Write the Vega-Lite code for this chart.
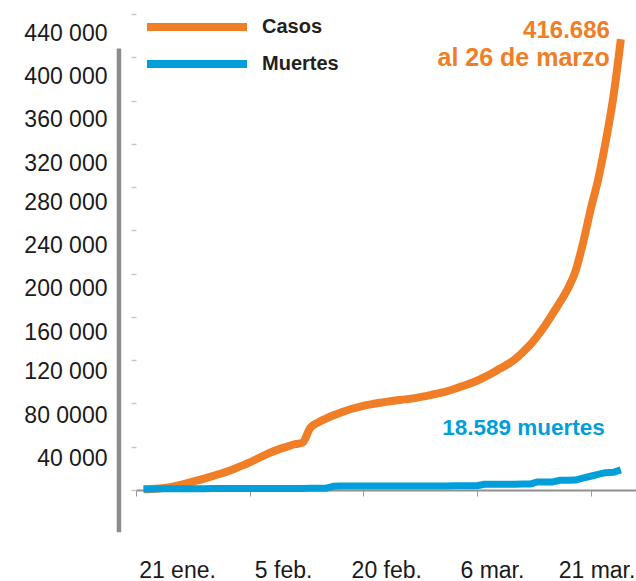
{
  "$schema": "https://vega.github.io/schema/vega-lite/v6.json",
  "width": 500,
  "height": 476,
  "autosize": "none",
  "padding": {"left": 136, "top": 14, "right": 0, "bottom": 91},
  "background": "white",
  "config": {
    "view": {"stroke": null},
    "font": "Liberation Sans",
    "axisX": {
      "title": null, "grid": false, "zindex": 1,
      "domain": false, "tickColor": "#999999", "tickSize": 6, "tickWidth": 1,
      "labelFontSize": 23, "labelColor": "#1a1a1a", "labelBaseline": "alphabetic", "labelAlign": "center",
      "labelPadding": 81, "labelFlush": false, "labelOverlap": false, "labelBound": false,
      "labelExpr": "utcdate(datum.value) + ' ' + ['ene.', 'feb.', 'mar.'][utcmonth(datum.value)]"
    },
    "axisY": {
      "title": null, "grid": false, "domain": false,
      "tickColor": "#c8c8c8", "tickSize": 5, "tickWidth": 1.5,
      "labelFontSize": 23, "labelColor": "#1a1a1a", "labelPadding": 24, "labelBaseline": "middle",
      "labelOverlap": false, "labelFlush": false, "labelBound": false,
      "labelExpr": "datum.value == 0 ? '' : (datum.value == 80000 ? '80 0000' : format(datum.value / 1000, 'd') + ' 000')"
    }
  },
  "resolve": {"axis": {"x": "independent", "y": "independent"}},
  "data": {"values": [
    {"fecha": "2020-01-22", "serie": "Casos", "valor": 600},
    {"fecha": "2020-01-23", "serie": "Casos", "valor": 900},
    {"fecha": "2020-01-24", "serie": "Casos", "valor": 1400},
    {"fecha": "2020-01-25", "serie": "Casos", "valor": 2200},
    {"fecha": "2020-01-26", "serie": "Casos", "valor": 3400},
    {"fecha": "2020-01-27", "serie": "Casos", "valor": 5000},
    {"fecha": "2020-01-28", "serie": "Casos", "valor": 6800},
    {"fecha": "2020-01-29", "serie": "Casos", "valor": 8600},
    {"fecha": "2020-01-30", "serie": "Casos", "valor": 10500},
    {"fecha": "2020-01-31", "serie": "Casos", "valor": 12600},
    {"fecha": "2020-02-01", "serie": "Casos", "valor": 14800},
    {"fecha": "2020-02-02", "serie": "Casos", "valor": 17000},
    {"fecha": "2020-02-03", "serie": "Casos", "valor": 19700},
    {"fecha": "2020-02-04", "serie": "Casos", "valor": 22500},
    {"fecha": "2020-02-05", "serie": "Casos", "valor": 25500},
    {"fecha": "2020-02-06", "serie": "Casos", "valor": 28900},
    {"fecha": "2020-02-07", "serie": "Casos", "valor": 32300},
    {"fecha": "2020-02-08", "serie": "Casos", "valor": 35300},
    {"fecha": "2020-02-09", "serie": "Casos", "valor": 38000},
    {"fecha": "2020-02-10", "serie": "Casos", "valor": 40200},
    {"fecha": "2020-02-11", "serie": "Casos", "valor": 42300},
    {"fecha": "2020-02-12", "serie": "Casos", "valor": 43800},
    {"fecha": "2020-02-13", "serie": "Casos", "valor": 57500},
    {"fecha": "2020-02-14", "serie": "Casos", "valor": 62300},
    {"fecha": "2020-02-15", "serie": "Casos", "valor": 65800},
    {"fecha": "2020-02-16", "serie": "Casos", "valor": 68800},
    {"fecha": "2020-02-17", "serie": "Casos", "valor": 71500},
    {"fecha": "2020-02-18", "serie": "Casos", "valor": 74000},
    {"fecha": "2020-02-19", "serie": "Casos", "valor": 76000},
    {"fecha": "2020-02-20", "serie": "Casos", "valor": 77800},
    {"fecha": "2020-02-21", "serie": "Casos", "valor": 79200},
    {"fecha": "2020-02-22", "serie": "Casos", "valor": 80400},
    {"fecha": "2020-02-23", "serie": "Casos", "valor": 81500},
    {"fecha": "2020-02-24", "serie": "Casos", "valor": 82500},
    {"fecha": "2020-02-25", "serie": "Casos", "valor": 83400},
    {"fecha": "2020-02-26", "serie": "Casos", "valor": 84200},
    {"fecha": "2020-02-27", "serie": "Casos", "valor": 85200},
    {"fecha": "2020-02-28", "serie": "Casos", "valor": 86500},
    {"fecha": "2020-02-29", "serie": "Casos", "valor": 88000},
    {"fecha": "2020-03-01", "serie": "Casos", "valor": 89500},
    {"fecha": "2020-03-02", "serie": "Casos", "valor": 91200},
    {"fecha": "2020-03-03", "serie": "Casos", "valor": 93400},
    {"fecha": "2020-03-04", "serie": "Casos", "valor": 95800},
    {"fecha": "2020-03-05", "serie": "Casos", "valor": 98200},
    {"fecha": "2020-03-06", "serie": "Casos", "valor": 101000},
    {"fecha": "2020-03-07", "serie": "Casos", "valor": 104300},
    {"fecha": "2020-03-08", "serie": "Casos", "valor": 108000},
    {"fecha": "2020-03-09", "serie": "Casos", "valor": 112000},
    {"fecha": "2020-03-10", "serie": "Casos", "valor": 116000},
    {"fecha": "2020-03-11", "serie": "Casos", "valor": 120800},
    {"fecha": "2020-03-12", "serie": "Casos", "valor": 127000},
    {"fecha": "2020-03-13", "serie": "Casos", "valor": 134000},
    {"fecha": "2020-03-14", "serie": "Casos", "valor": 142500},
    {"fecha": "2020-03-15", "serie": "Casos", "valor": 152000},
    {"fecha": "2020-03-16", "serie": "Casos", "valor": 163000},
    {"fecha": "2020-03-17", "serie": "Casos", "valor": 174000},
    {"fecha": "2020-03-18", "serie": "Casos", "valor": 186000},
    {"fecha": "2020-03-19", "serie": "Casos", "valor": 202000},
    {"fecha": "2020-03-20", "serie": "Casos", "valor": 228000},
    {"fecha": "2020-03-21", "serie": "Casos", "valor": 259000},
    {"fecha": "2020-03-22", "serie": "Casos", "valor": 287000},
    {"fecha": "2020-03-23", "serie": "Casos", "valor": 322000},
    {"fecha": "2020-03-24", "serie": "Casos", "valor": 363000},
    {"fecha": "2020-03-25", "serie": "Casos", "valor": 416686},
    {"fecha": "2020-01-22", "serie": "Muertes", "valor": 1000},
    {"fecha": "2020-01-23", "serie": "Muertes", "valor": 1000},
    {"fecha": "2020-01-24", "serie": "Muertes", "valor": 1050},
    {"fecha": "2020-01-25", "serie": "Muertes", "valor": 1100},
    {"fecha": "2020-01-26", "serie": "Muertes", "valor": 1100},
    {"fecha": "2020-01-27", "serie": "Muertes", "valor": 1150},
    {"fecha": "2020-01-28", "serie": "Muertes", "valor": 1200},
    {"fecha": "2020-01-29", "serie": "Muertes", "valor": 1200},
    {"fecha": "2020-01-30", "serie": "Muertes", "valor": 1250},
    {"fecha": "2020-01-31", "serie": "Muertes", "valor": 1300},
    {"fecha": "2020-02-01", "serie": "Muertes", "valor": 1300},
    {"fecha": "2020-02-02", "serie": "Muertes", "valor": 1350},
    {"fecha": "2020-02-03", "serie": "Muertes", "valor": 1350},
    {"fecha": "2020-02-04", "serie": "Muertes", "valor": 1400},
    {"fecha": "2020-02-05", "serie": "Muertes", "valor": 1400},
    {"fecha": "2020-02-06", "serie": "Muertes", "valor": 1400},
    {"fecha": "2020-02-07", "serie": "Muertes", "valor": 1450},
    {"fecha": "2020-02-08", "serie": "Muertes", "valor": 1450},
    {"fecha": "2020-02-09", "serie": "Muertes", "valor": 1450},
    {"fecha": "2020-02-10", "serie": "Muertes", "valor": 1500},
    {"fecha": "2020-02-11", "serie": "Muertes", "valor": 1500},
    {"fecha": "2020-02-12", "serie": "Muertes", "valor": 1500},
    {"fecha": "2020-02-13", "serie": "Muertes", "valor": 1550},
    {"fecha": "2020-02-14", "serie": "Muertes", "valor": 1550},
    {"fecha": "2020-02-15", "serie": "Muertes", "valor": 1600},
    {"fecha": "2020-02-16", "serie": "Muertes", "valor": 3400},
    {"fecha": "2020-02-17", "serie": "Muertes", "valor": 3700},
    {"fecha": "2020-02-18", "serie": "Muertes", "valor": 3700},
    {"fecha": "2020-02-19", "serie": "Muertes", "valor": 3700},
    {"fecha": "2020-02-20", "serie": "Muertes", "valor": 3700},
    {"fecha": "2020-02-21", "serie": "Muertes", "valor": 3700},
    {"fecha": "2020-02-22", "serie": "Muertes", "valor": 3700},
    {"fecha": "2020-02-23", "serie": "Muertes", "valor": 3700},
    {"fecha": "2020-02-24", "serie": "Muertes", "valor": 3750},
    {"fecha": "2020-02-25", "serie": "Muertes", "valor": 3750},
    {"fecha": "2020-02-26", "serie": "Muertes", "valor": 3750},
    {"fecha": "2020-02-27", "serie": "Muertes", "valor": 3750},
    {"fecha": "2020-02-28", "serie": "Muertes", "valor": 3800},
    {"fecha": "2020-02-29", "serie": "Muertes", "valor": 3800},
    {"fecha": "2020-03-01", "serie": "Muertes", "valor": 3800},
    {"fecha": "2020-03-02", "serie": "Muertes", "valor": 3800},
    {"fecha": "2020-03-03", "serie": "Muertes", "valor": 3850},
    {"fecha": "2020-03-04", "serie": "Muertes", "valor": 3850},
    {"fecha": "2020-03-05", "serie": "Muertes", "valor": 3900},
    {"fecha": "2020-03-06", "serie": "Muertes", "valor": 3900},
    {"fecha": "2020-03-07", "serie": "Muertes", "valor": 5300},
    {"fecha": "2020-03-08", "serie": "Muertes", "valor": 5300},
    {"fecha": "2020-03-09", "serie": "Muertes", "valor": 5350},
    {"fecha": "2020-03-10", "serie": "Muertes", "valor": 5400},
    {"fecha": "2020-03-11", "serie": "Muertes", "valor": 5400},
    {"fecha": "2020-03-12", "serie": "Muertes", "valor": 5450},
    {"fecha": "2020-03-13", "serie": "Muertes", "valor": 5500},
    {"fecha": "2020-03-14", "serie": "Muertes", "valor": 7400},
    {"fecha": "2020-03-15", "serie": "Muertes", "valor": 7400},
    {"fecha": "2020-03-16", "serie": "Muertes", "valor": 7500},
    {"fecha": "2020-03-17", "serie": "Muertes", "valor": 9000},
    {"fecha": "2020-03-18", "serie": "Muertes", "valor": 9000},
    {"fecha": "2020-03-19", "serie": "Muertes", "valor": 9200},
    {"fecha": "2020-03-20", "serie": "Muertes", "valor": 10900},
    {"fecha": "2020-03-21", "serie": "Muertes", "valor": 12700},
    {"fecha": "2020-03-22", "serie": "Muertes", "valor": 14400},
    {"fecha": "2020-03-23", "serie": "Muertes", "valor": 16000},
    {"fecha": "2020-03-24", "serie": "Muertes", "valor": 16300},
    {"fecha": "2020-03-25", "serie": "Muertes", "valor": 18589}
  ]},
  "layer": [
    {
      "transform": [{"filter": "datum.serie === 'Casos'"}],
      "mark": {"type": "line", "strokeWidth": 8, "interpolate": "monotone", "strokeCap": "butt", "strokeJoin": "round"},
      "encoding": {
        "x": {
          "field": "fecha", "type": "temporal",
          "scale": {"type": "utc", "domain": [{"year": 2020, "month": 1, "date": 21, "utc": true}, {"year": 2020, "month": 3, "date": 27, "utc": true}]},
          "axis": {
            "orient": "bottom",
            "values": [{"year": 2020, "month": 1, "date": 21, "utc": true}],
            "labelOffset": 41,
            "domain": true, "domainColor": "#333333", "domainOpacity": 0.55, "domainWidth": 2
          }
        },
        "y": {
          "field": "valor", "type": "quantitative",
          "scale": {"domain": [0, 440000], "nice": false, "zero": false},
          "axis": {"orient": "left", "values": [0, 40000, 80000, 120000], "labelOffset": 11.6}
        },
        "color": {
          "field": "serie", "type": "nominal",
          "scale": {"domain": ["Casos", "Muertes"], "range": ["#F07E26", "#009FDA"]},
          "legend": {
            "orient": "none", "legendX": 51, "legendY": 3, "title": null, "padding": 0,
            "symbolType": "M-10,0H10", "symbolSize": 100, "symbolStrokeWidth": 8, "symbolOpacity": 1,
            "labelFontSize": 20, "labelFontWeight": "bold", "labelColor": "#231F20", "labelOffset": 55,
            "rowPadding": 5
          }
        }
      }
    },
    {
      "data": {"values": [{}]},
      "mark": {"type": "rule", "strokeWidth": 4.5, "color": "#8c8c8c", "strokeCap": "butt"},
      "encoding": {
        "x": {
          "datum": {"year": 2020, "month": 1, "date": 18, "hours": 18, "utc": true}, "type": "temporal",
          "axis": {"orient": "bottom", "values": [{"year": 2020, "month": 2, "date": 5, "utc": true}], "labelOffset": 33.5}
        },
        "y": {
          "datum": -39000, "type": "quantitative",
          "axis": {"orient": "left", "values": [160000, 200000, 240000, 280000], "labelOffset": 15.2}
        },
        "y2": {"datum": 408000}
      }
    },
    {
      "transform": [{"filter": "datum.serie === 'Muertes'"}],
      "mark": {"type": "line", "strokeWidth": 7, "strokeCap": "butt", "strokeJoin": "round"},
      "encoding": {
        "x": {
          "field": "fecha", "type": "temporal",
          "axis": {"orient": "bottom", "values": [{"year": 2020, "month": 2, "date": 20, "utc": true}], "labelOffset": 23}
        },
        "y": {
          "field": "valor", "type": "quantitative",
          "axis": {"orient": "left", "values": [320000, 360000, 400000, 440000], "labelOffset": 19.4}
        },
        "color": {"field": "serie", "type": "nominal"}
      }
    },
    {
      "data": {"values": [{}]},
      "mark": {"type": "text", "text": "416.686", "align": "right", "baseline": "middle", "dx": -11, "dy": -8, "fontSize": 24, "fontWeight": "bold", "color": "#F07E26"},
      "encoding": {
        "x": {
          "datum": {"year": 2020, "month": 3, "date": 25, "utc": true}, "type": "temporal",
          "axis": {"orient": "bottom", "values": [{"year": 2020, "month": 3, "date": 6, "utc": true}], "labelOffset": 15}
        },
        "y": {"datum": 416686, "type": "quantitative", "axis": null}
      }
    },
    {
      "data": {"values": [{}]},
      "mark": {"type": "text", "text": "al 26 de marzo", "align": "right", "baseline": "middle", "dx": -11, "dy": 19, "fontSize": 25, "fontWeight": "bold", "color": "#F07E26"},
      "encoding": {
        "x": {
          "datum": {"year": 2020, "month": 3, "date": 25, "utc": true}, "type": "temporal",
          "axis": {"orient": "bottom", "values": [{"year": 2020, "month": 3, "date": 21, "utc": true}], "labelOffset": 6}
        },
        "y": {"datum": 416686, "type": "quantitative", "axis": null}
      }
    },
    {
      "data": {"values": [{}]},
      "mark": {"type": "text", "text": "18.589 muertes", "align": "right", "baseline": "middle", "dx": -16, "dy": -42, "fontSize": 22.5, "fontWeight": "bold", "color": "#009FDA"},
      "encoding": {
        "x": {"datum": {"year": 2020, "month": 3, "date": 25, "utc": true}, "type": "temporal", "axis": null},
        "y": {"datum": 18589, "type": "quantitative", "axis": null}
      }
    }
  ]
}
